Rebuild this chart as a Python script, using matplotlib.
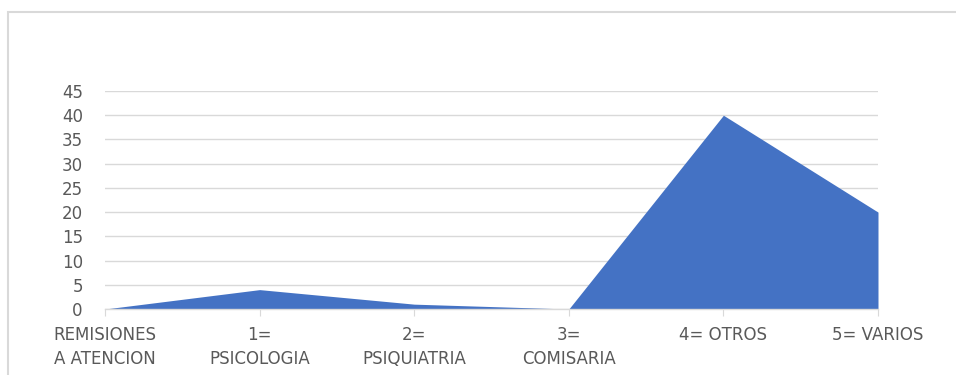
import numpy as np
import matplotlib.pyplot as plt
from matplotlib.patches import Rectangle

# datos
categorias = ['REMISIONES\nA ATENCION', '1=\nPSICOLOGIA', '2=\nPSIQUIATRIA',
              '3=\nCOMISARIA', '4= OTROS', '5= VARIOS']
valores = [0, 4, 1, 0, 40, 20]
ticks_y = [0, 5, 10, 15, 20, 25, 30, 35, 40, 45]

gris = '#d9d9d9'
texto = '#595959'
azul = '#4472C4'

W, H = 956, 375
fig = plt.figure(figsize=(W / 100, H / 100), dpi=100)

# marco del gráfico (solo se ven borde izquierdo y superior)
fig.patches.append(Rectangle((8 / W, -0.1), 1.2, 1 - 12 / H + 0.1,
                             transform=fig.transFigure, fill=False,
                             edgecolor=gris, linewidth=1.5))

ax = fig.add_axes([105 / W, 1 - 309 / H, (878 - 105) / W, (309 - 91) / H])
x = np.arange(len(categorias))
ax.fill_between(x, valores, 0, color=azul, linewidth=0)

ax.set_xlim(0, len(categorias) - 1)
ax.set_ylim(0, 45)
ax.set_yticks(ticks_y)
ax.set_xticks(x)
ax.set_xticklabels(categorias, linespacing=1.45)
ax.grid(axis='y', color=gris, linewidth=1)
ax.set_axisbelow(True)

for s in ['top', 'right', 'left']:
    ax.spines[s].set_visible(False)
ax.spines['bottom'].set_color(gris)
ax.spines['bottom'].set_linewidth(1)

ax.tick_params(axis='y', length=0, pad=16, labelsize=12, labelcolor=texto)
ax.tick_params(axis='x', length=5, color=gris, pad=7, labelsize=12,
               labelcolor=texto)
for lbl in ax.get_xticklabels() + ax.get_yticklabels():
    lbl.set_fontfamily('DejaVu Sans')

fig.savefig('out.png', dpi=100)
